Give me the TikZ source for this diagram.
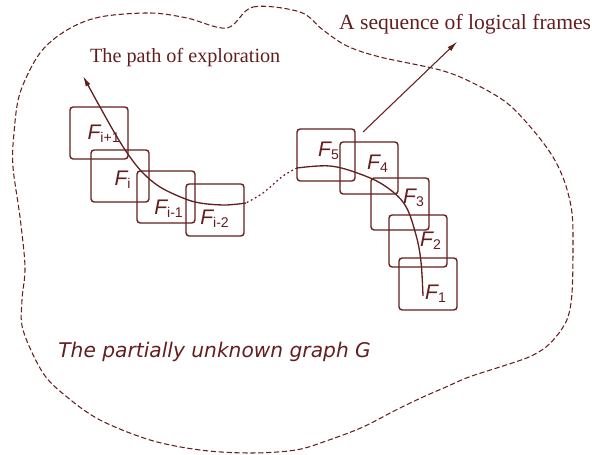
\documentclass[tikz,border=0pt]{standalone}
\usepackage{fontspec}
\setmainfont{Liberation Serif}
\setsansfont{Liberation Sans}
\newfontfamily\gothicfont{DejaVu Sans}
\usetikzlibrary{arrows.meta}
\definecolor{graphRed}{RGB}{100,30,30}
\tikzset{
  outline/.style={draw=graphRed, line width=0.6pt, dash pattern=on 3pt off 1.5pt},
  lframe/.style={draw=graphRed, line width=0.8pt, rounded corners=1.8pt,
    minimum width=1.16cm, minimum height=1.04cm, inner sep=0pt},
  flabel/.style={text=graphRed, inner sep=0pt, font=\sffamily\itshape\fontsize{12}{12}\selectfont},
  explore/.style={draw=graphRed, line width=0.75pt},
  serifnote/.style={text=graphRed, inner sep=1pt, font=\fontsize{11.5}{12}\selectfont},
  graphnote/.style={text=graphRed, inner sep=0pt, font=\gothicfont\itshape\fontsize{11.5}{13}\selectfont}
}
\newcommand{\fsub}[1]{F\textsubscript{\upshape #1}}
\begin{document}
\begin{tikzpicture}[x=0.02cm, y=-0.02cm, >={Latex[length=6pt,width=3pt]}]
  \useasboundingbox (0,0) rectangle (592,455);
  % --- the unknown graph: dashed outline ---
  \draw[outline] plot[smooth cycle, tension=0.55] coordinates {
    (227,28) (253,7) (300,12) (323,30) (347,46) (380,57) (440,70) (473,83)
    (507,103) (533,130) (553,157) (565,183) (572,213) (573,250) (572,293)
    (568,317) (559,333) (546,347) (529,357) (503,366) (469,377) (446,387)
    (423,397) (396,410) (363,427) (329,440) (296,450) (250,453) (200,450)
    (150,440) (100,420) (67,397) (43,373) (23,330) (22,300) (25,267)
    (20,217) (13,167) (14,133) (20,93) (40,53) (67,30) (100,17) (150,13)
    (187,18)};
  % --- frames, left group ---
  \node[lframe] (fip1) at (99,133) {};
  \node[lframe] (fi) at (120,176) {};
  \node[lframe] (fim1) at (166,197) {};
  \node[lframe] (fim2) at (215,210) {};
  % --- frames, right group ---
  \node[lframe] (f5) at (326,155) {};
  \node[lframe] (f4) at (369,168) {};
  \node[lframe] (f3) at (400,204) {};
  \node[lframe] (f2) at (418,241) {};
  \node[lframe] (f1) at (428,284) {};
  % --- frame labels ---
  \node[flabel] (lfip1) at (104,134) {\fsub{i+1}};
  \node[flabel] (lfi) at (123,180) {\fsub{i}};
  \node[flabel] (lfim1) at (169,209) {\fsub{i-1}};
  \node[flabel] (lfim2) at (215,219) {\fsub{i-2}};
  \node[flabel] (lf5) at (329,151) {\fsub{5}};
  \node[flabel] (lf4) at (378,164) {\fsub{4}};
  \node[flabel] (lf3) at (414,198) {\fsub{3}};
  \node[flabel] (lf2) at (431,241) {\fsub{2}};
  \node[flabel] (lf1) at (436,294) {\fsub{1}};
  % --- path of exploration ---
  \coordinate (start) at (423,296);
  \coordinate (dotA) at (297,168);
  \coordinate (dotB) at (246,203);
  \coordinate (tip) at (83,76);
  \draw[explore] plot[smooth, tension=0.6] coordinates {(start) (421,262)
    (416,235) (405,205) (385,186) (360,174) (330,166) (dotA)};
  \draw[explore, line width=0.7pt, dash pattern=on 1pt off 1.6pt]
    plot[smooth] coordinates {(dotA) (283,176) (263,193) (dotB)};
  \draw[explore, ->] plot[smooth, tension=0.6] coordinates {(dotB) (225,205)
    (200,203) (183,198) (160,187) (143,173) (130,157) (117,137) (100,107) (tip)};
  % --- notes ---
  \node[serifnote, anchor=base west] (pathlbl) at (88,63) {The path of exploration};
  \node[serifnote, anchor=base west, font=\fontsize{12.3}{13}\selectfont] (seq) at (337,30) {A sequence of logical frames};
  \node[graphnote, anchor=base west] (glbl) at (58,358) {The partially unknown graph G};
  \coordinate (seqfoot) at (363,132);
  \draw[explore, line width=0.6pt, ->] (seqfoot) -- ([xshift=-0.16cm, yshift=-0.1cm]seq.south);
\end{tikzpicture}
\end{document}
